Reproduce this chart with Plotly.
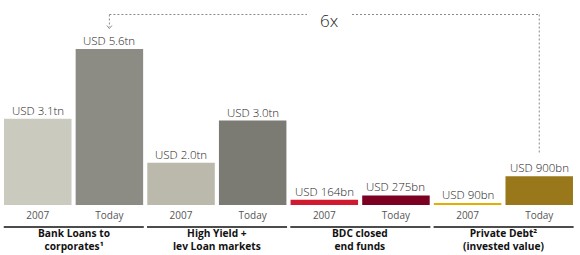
import plotly.graph_objects as go

# ---- data ----
categories = ["2007", "Today", "2007", "Today", "2007", "Today", "2007", "Today"]
# bar heights as drawn in the reference (USD tn, illustrative scale)
bar_heights = [3.1, 5.6, 1.52, 3.03, 0.19, 0.345, 0.075, 1.03]
value_labels = ["USD 3.1tn", "USD 5.6tn", "USD 2.0tn", "USD 3.0tn",
                "USD 164bn", "USD 275bn", "USD 90bn", "USD 900bn"]
bar_colors = ["#cacabe", "#8c8b84", "#bab9ac", "#7b7b73",
              "#cf1a2f", "#7b0022", "#e4ae00", "#98781a"]
groups = ["Bank Loans to<br>corporates¹", "High Yield +<br>lev Loan markets",
          "BDC closed<br>end funds", "Private Debt²<br>(invested value)"]
multiple_label = "6x"

FONT = "Open Sans"
xs = list(range(len(categories)))
W, H = 580, 255
PLOT_H = 205
ymax = 7.36
px = ymax / PLOT_H  # data units per pixel

fig = go.Figure()
fig.add_trace(go.Bar(
    x=xs, y=bar_heights, width=0.942,
    marker=dict(color=bar_colors, line=dict(width=0)),
    hoverinfo="skip",
))

# value labels
for x, h, t in zip(xs, bar_heights, value_labels):
    fig.add_annotation(x=x, y=h, text=t, showarrow=False, yanchor="bottom",
                       yshift=-1, font=dict(family=FONT, size=11.5, color="#1e1e1e", weight=300))

# group underlines and labels
for g, label in enumerate(groups):
    x0 = 2 * g - 0.475
    x1 = 2 * g + 1 + 0.48
    fig.add_shape(type="line", xref="x", yref="paper", x0=x0, x1=x1,
                  y0=-22 / PLOT_H, y1=-22 / PLOT_H,
                  line=dict(color="#111111", width=1.5))
    fig.add_annotation(x=2 * g + 0.5, xref="x", yref="paper", y=-35 / PLOT_H,
                       text="<b>" + label + "</b>", showarrow=False,
                       yanchor="middle", font=dict(family=FONT, size=10.2, color="#111111"))

# dashed "6x" connector
ytop = ymax - 14.5 * px
dash = dict(color="#8a8a8a", width=1, dash="2px,2px")
xl, xr = 1, 7
gap_l = xl + (307 - 109.4) / 71.64
gap_r = xl + (352 - 109.4) / 71.64
fig.add_shape(type="line", x0=xl, x1=gap_l, y0=ytop, y1=ytop, line=dash)
fig.add_shape(type="line", x0=gap_r, x1=xr, y0=ytop, y1=ytop, line=dash)
fig.add_shape(type="line", x0=xl, x1=xl, y0=ytop, y1=ymax - 27 * px, line=dash)
fig.add_shape(type="line", x0=xr, x1=xr, y0=ytop, y1=ymax - 153 * px, line=dash)
ah = ymax - 28.5 * px
aw = 2.5 / 71.64
fig.add_shape(type="path",
              path=f"M {xl-aw},{ah+3*px} L {xl},{ah} L {xl+aw},{ah+3*px}",
              line=dict(color="#8a8a8a", width=1))
fig.add_annotation(x=(gap_l + gap_r) / 2, y=ymax - 20 * px, text=multiple_label,
                   showarrow=False, yanchor="middle",
                   font=dict(family=FONT, size=17, color="#1e1e1e", weight=300))

fig.update_layout(
    width=W, height=H,
    margin=dict(l=0, r=0, t=0, b=H - PLOT_H),
    plot_bgcolor="white", paper_bgcolor="white",
    showlegend=False,
    xaxis=dict(range=[-0.527, 7.569], tickvals=xs, ticktext=categories,
               showgrid=False, zeroline=False, showline=False, ticks="",
               ticklabelstandoff=3,
               tickfont=dict(family=FONT, size=10, color="#555555"),
               fixedrange=True),
    yaxis=dict(range=[0, ymax], visible=False, fixedrange=True),
)

fig.write_html("out.html")
